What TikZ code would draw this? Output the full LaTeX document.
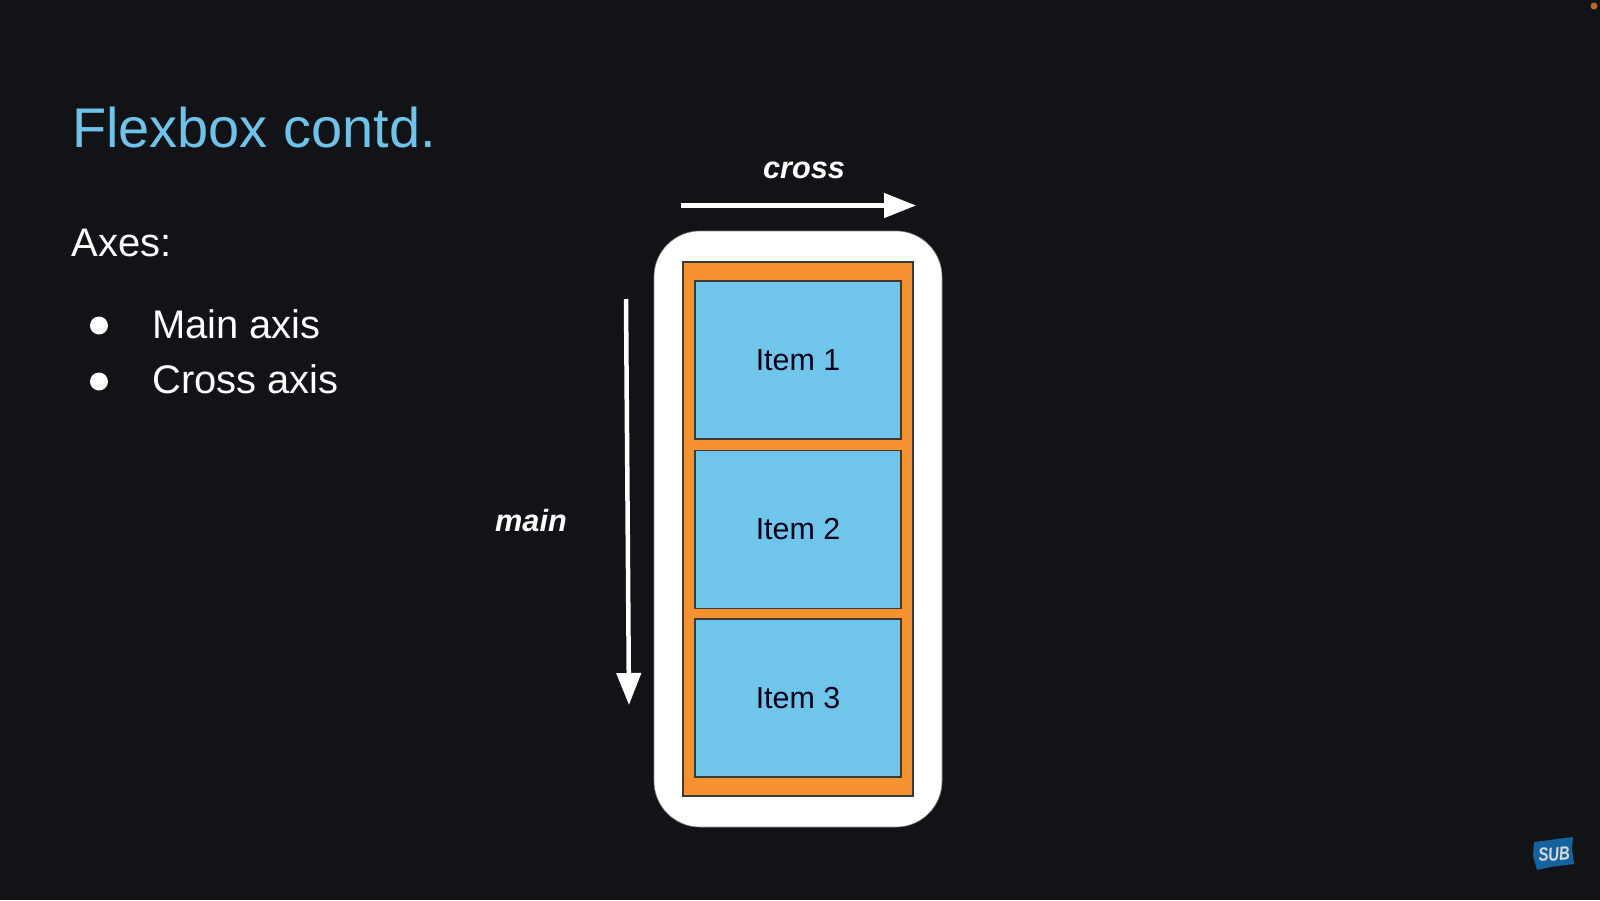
\documentclass[tikz,border=0pt]{standalone}
\usepackage{fontspec}
\setmainfont{Liberation Sans}
\usetikzlibrary{arrows.meta}
\definecolor{bgc}{HTML}{111317}
\definecolor{titlec}{HTML}{6FC3EA}
\definecolor{orangec}{HTML}{F79231}
\definecolor{bluec}{HTML}{70C5EA}
\definecolor{edgec}{HTML}{3A3A38}
\definecolor{subc}{HTML}{14639F}
\tikzset{
  txt/.style={anchor=base west,inner sep=0pt,text=white,font=\fontsize{39.9}{44}\selectfont},
  axislabel/.style={anchor=base,inner sep=0pt,text=white,font=\fontsize{30.7}{34}\selectfont\bfseries\itshape},
  itembox/.style={draw=edgec,line width=1.3pt,fill=bluec,minimum width=206pt,minimum height=158pt,inner sep=0pt,font=\fontsize{30.4}{34}\selectfont,text=black!90!blue},
  dotb/.style={circle,fill=white,minimum size=18pt,inner sep=0pt},
  axisarrow/.style={draw=white,line width=4.5pt,-{Triangle[length=32pt,width=24pt,fill=white]}},
}
\begin{document}
\begin{tikzpicture}[x=1pt,y=-1pt]
\useasboundingbox (0,0) rectangle (1600,900);
\fill[bgc] (0,0) rectangle (1600,900);
\node[anchor=base west,inner sep=0pt,text=titlec,font=\fontsize{55.9}{60}\selectfont] (title) at (72,147.5) {Flexbox contd.};
\node[txt] (axes) at (71.5,256) {Axes:};
\node[dotb] (b1) at (99,325.5) {};
\node[dotb] (b2) at (99,381.5) {};
\node[txt] (main) at (152,338) {Main axis};
\node[txt] (crossaxis) at (152,393) {Cross axis};
\node[draw=edgec!60,line width=0.6pt,fill=white,rounded corners=46pt,minimum width=288pt,minimum height=596pt,inner sep=0pt] (outer) at (798,529) {};
\node[draw=edgec,line width=1.3pt,fill=orangec,minimum width=230pt,minimum height=534pt,inner sep=0pt] (flex) at (798,529) {};
\node[itembox] (i1) at (798,360) {\raisebox{-1pt}{Item 1}};
\node[itembox] (i2) at (798,529.5) {\raisebox{-1pt}{Item 2}};
\node[itembox] (i3) at (798,698) {\raisebox{-1pt}{Item 3}};
\node[axislabel] (crossl) at (804,178) {cross};
\node[axislabel] (mainl) at (531,531) {main};
\coordinate (c0) at (681,205.5);
\coordinate (c1) at (916,205.5);
\coordinate (m0) at (626,299);
\coordinate (m1) at (629,705);
\draw[axisarrow] (c0) -- (c1);
\draw[axisarrow] (m0) -- (m1);
\fill[orangec!70!bgc] (1594,6) circle (3.5pt);
\fill[subc] (1534,842) -- (1542,841) -- (1573,837) -- (1572,848) -- (1574,864) -- (1550,867) -- (1537,870) -- (1533,856) -- cycle;
\node[rotate=5,inner sep=0pt,text=white!85!black,font=\fontsize{19}{20}\selectfont\bfseries\itshape,xscale=0.78] (sub) at (1554,854) {SUB};
\end{tikzpicture}
\end{document}
